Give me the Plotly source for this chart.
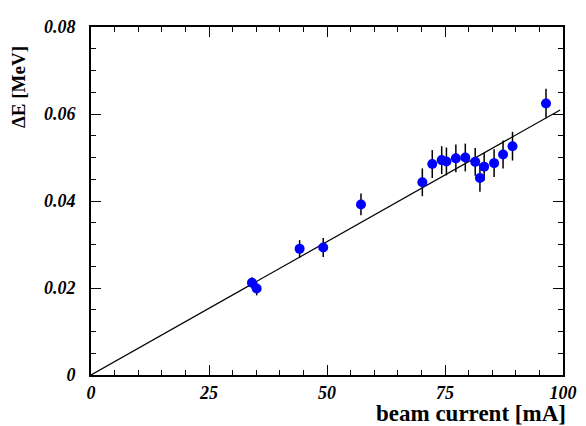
import plotly.graph_objects as go

beam_current = [34.1, 35.1, 44.2, 49.2, 57.2, 70.2, 72.3, 74.3, 75.3, 77.3, 79.3,
                81.4, 82.4, 83.3, 85.4, 87.3, 89.3, 96.4]
delta_e = [0.0212, 0.0199, 0.0290, 0.0293, 0.0392, 0.0443, 0.0485, 0.0494, 0.0491,
           0.0498, 0.0500, 0.0490, 0.0453, 0.0479, 0.0487, 0.0507, 0.0526, 0.0624]
delta_e_err = [0.0013, 0.0016, 0.0020, 0.0022, 0.0025, 0.0032, 0.0032, 0.0032, 0.0032,
               0.0032, 0.0032, 0.0032, 0.0032, 0.0032, 0.0032, 0.0032, 0.0033, 0.0034]
fit_slope = 0.000613
fit_x = [0.0, 99.4]
fit_y = [fit_slope * v for v in fit_x]

x_ticks = [0, 25, 50, 75, 100]
x_tick_labels = ["0", "25", "50", "75", "100"]
y_ticks = [0, 0.02, 0.04, 0.06, 0.08]
y_tick_labels = ["0", "0.02", "0.04", "0.06", "0.08"]

# page has an 8px body margin; compensate so the plot lands where the reference has it
OFF = 8
W, H = 586 - OFF, 426 - OFF
L, R, T, B = 91 - OFF, 19, 17 - OFF, 59 - OFF

SERIF = "Liberation Serif, Times New Roman, Times, serif"

fig = go.Figure()
fig.add_trace(go.Scatter(x=fit_x, y=fit_y, mode="lines",
                         line=dict(color="black", width=1.2), hoverinfo="skip"))
fig.add_trace(go.Scatter(
    x=beam_current, y=delta_e, mode="markers",
    marker=dict(color="#0000ff", size=10, line=dict(width=0)),
    error_y=dict(type="data", array=delta_e_err, color="black", thickness=1.5, width=0),
))

tickfont = dict(family=SERIF, size=18, color="black", weight="bold", style="italic")
fig.update_xaxes(range=[0, 100], tickvals=x_ticks, ticktext=x_tick_labels,
                 ticks="inside", ticklen=10, tickwidth=1.2, tickcolor="black",
                 minor=dict(ticks="inside", ticklen=5, dtick=5, tickwidth=1.2, tickcolor="black"),
                 showline=True, linecolor="black", linewidth=2, mirror="allticks",
                 showgrid=False, zeroline=False, tickfont=tickfont, ticklabelstandoff=0)
fig.update_yaxes(range=[0, 0.08], tickvals=y_ticks, ticktext=y_tick_labels,
                 ticks="inside", ticklen=10, tickwidth=1.2, tickcolor="black",
                 minor=dict(ticks="inside", ticklen=5, dtick=0.005, tickwidth=1.2, tickcolor="black"),
                 showline=True, linecolor="black", linewidth=2, mirror="allticks",
                 showgrid=False, zeroline=False, tickfont=tickfont, ticklabelstandoff=10)

pw, ph = W - L - R, H - T - B
# page-pixel positions converted to figure coordinates
fig.add_annotation(text="ΔE [MeV]", textangle=-90, showarrow=False,
                   xref="paper", yref="paper",
                   x=(18 - 91) / pw, xanchor="center",
                   y=1 - (35 - 17) / ph, yanchor="top",
                   font=dict(family=SERIF, size=19, color="black", weight="bold"))
fig.add_annotation(text="beam current [mA]", showarrow=False,
                   xref="paper", yref="paper",
                   x=(572 - 91) / pw, xanchor="right",
                   y=-(407 - 367) / ph, yanchor="middle",
                   font=dict(family=SERIF, size=23, color="black", weight="bold"))

fig.update_layout(width=W, height=H, margin=dict(l=L, r=R, t=T, b=B),
                  paper_bgcolor="white", plot_bgcolor="white", showlegend=False)
fig.write_html("out.html")
